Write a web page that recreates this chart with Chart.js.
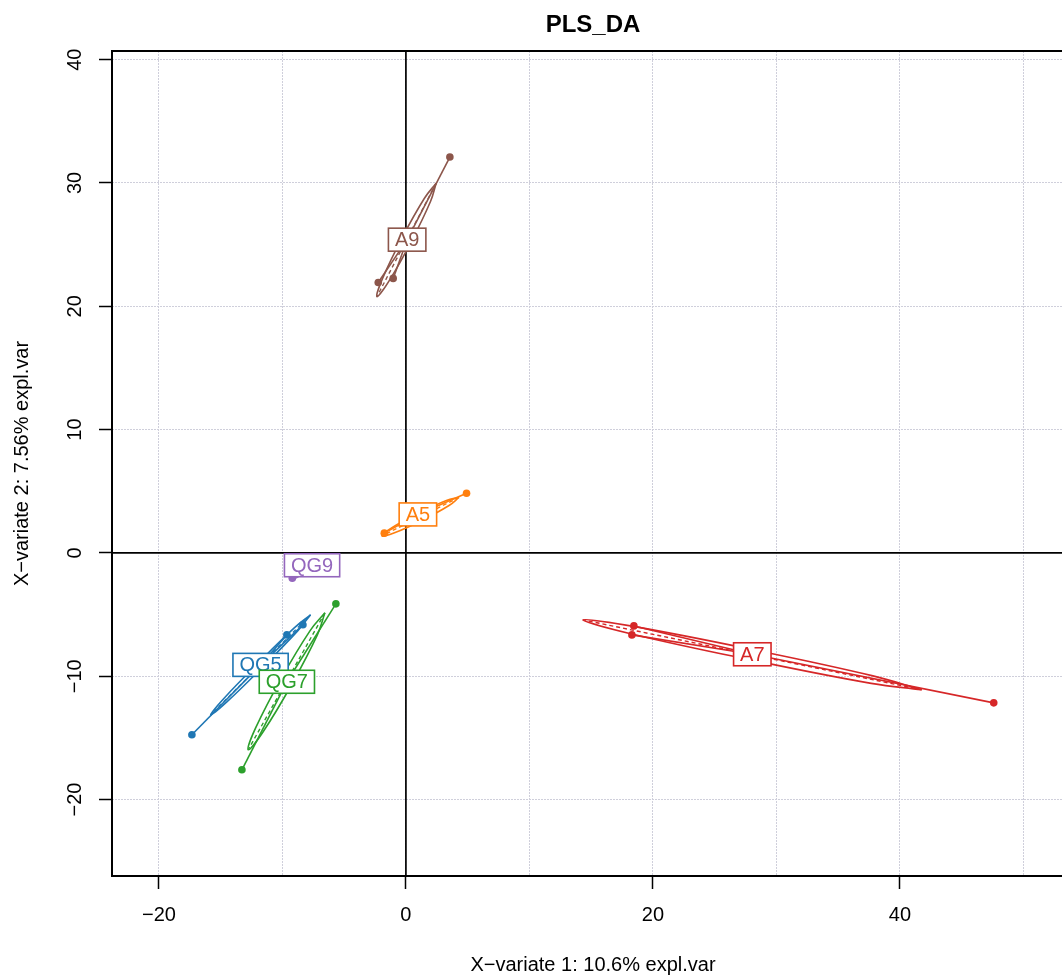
<!DOCTYPE html>
<html><head><meta charset="utf-8">
<script src="https://cdn.jsdelivr.net/npm/chart.js@4.4.0/dist/chart.umd.min.js"></script>
<style>
html,body{margin:0;padding:0;overflow:hidden;background:#fff;width:1062px;height:975px}
#wrap{position:absolute;left:0;top:0;width:1100px;height:975px}
</style>
</head><body><div id="wrap"><canvas id="c" width="1100" height="975"></canvas></div>
<script>
// ---------------- data ----------------
const groups = ['A5', 'A7', 'A9', 'QG5', 'QG7', 'QG9'];
const groupColors = ['#ff7f0e', '#d62728', '#8c564b', '#1f77b4', '#2ca02c', '#9467bd'];

// sample scores (X-variate 1, X-variate 2)
const samplesA5  = [[4.91, 4.84], [-1.75, 1.60], [-0.25, 2.92]];
const samplesA7  = [[18.46, -5.92], [18.30, -6.65], [47.60, -12.16]];
const samplesA9  = [[3.56, 32.10], [-2.24, 21.93], [-1.03, 22.26]];
const samplesQG5 = [[-17.33, -14.75], [-9.64, -6.65], [-8.34, -5.83]];
const samplesQG7 = [[-5.67, -4.13], [-13.28, -17.59], [-9.97, -9.63]];
const samplesQG9 = [[-9.20, -2.05], [-6.90, -0.50], [-6.70, -0.45]];

// group centroids (label positions)
const centroidX = [0.97, 28.05, 0.10, -11.77, -9.64, -7.60];
const centroidY = [3.12, -8.22, 25.40, -9.08, -10.45, -1.00];

// confidence ellipse outlines (traced points, starting at one tip)
const ellipseA5  = [[4.30, 4.50], [3.49, 3.84], [1.33, 2.65], [-0.92, 1.63], [-1.94, 1.38], [-1.13, 2.04], [1.04, 3.23], [3.28, 4.25], [4.30, 4.50]];
const ellipseA7  = [[41.77, -11.10], [37.68, -10.58], [27.96, -8.68], [18.28, -6.57], [14.33, -5.43], [18.42, -5.96], [28.15, -7.86], [37.82, -9.97], [41.77, -11.10]];
const ellipseA9  = [[2.45, 29.98], [1.99, 28.50], [0.40, 25.19], [-1.40, 22.00], [-2.35, 20.78], [-1.89, 22.26], [-0.30, 25.57], [1.50, 28.76], [2.45, 29.98]];
const ellipseQG5 = [[-7.72, -5.02], [-8.78, -6.34], [-11.60, -9.25], [-14.50, -12.08], [-15.82, -13.14], [-14.76, -11.82], [-11.94, -8.91], [-9.04, -6.08], [-7.72, -5.02]];
const ellipseQG7 = [[-6.56, -4.86], [-7.17, -6.65], [-9.24, -10.65], [-11.56, -14.50], [-12.77, -15.96], [-12.16, -14.17], [-10.09, -10.17], [-7.77, -6.32], [-6.56, -4.86]];
const ellipseQG9 = [[-6.20, -0.10], [-6.60, -0.50], [-7.55, -1.15], [-8.60, -1.85], [-9.20, -2.10], [-8.70, -1.70], [-7.65, -0.85], [-6.70, -0.20], [-6.20, -0.10]];

const allSamples = [samplesA5, samplesA7, samplesA9, samplesQG5, samplesQG7, samplesQG9];
const allEllipses = [ellipseA5, ellipseA7, ellipseA9, ellipseQG5, ellipseQG7, ellipseQG9];

// axes
const xRange = [-23.8, 54.1];
const yRange = [-26.2, 40.7];
const xTickValues = [-20, 0, 20, 40];
const xTickLabels = ['\u221220', '0', '20', '40'];
const yTickValues = [-20, -10, 0, 10, 20, 30, 40];
const yTickLabels = ['\u221220', '\u221210', '0', '10', '20', '30', '40'];

const titleText = 'PLS_DA';
const xTitle = 'X\u2212variate 1: 10.6% expl.var';
const yTitle = 'X\u2212variate 2: 7.56% expl.var';

// ---------------- build datasets ----------------
const pt = p => ({x: p[0], y: p[1]});
const datasets = [];
let ord = 1000;
// zero reference lines
datasets.push({data: [{x: 0, y: yRange[0]}, {x: 0, y: yRange[1]}], showLine: true, borderColor: '#000', borderWidth: 1.7, pointRadius: 0, order: ord--});
datasets.push({data: [{x: xRange[0], y: 0}, {x: xRange[1], y: 0}], showLine: true, borderColor: '#000', borderWidth: 1.7, pointRadius: 0, order: ord--});

groups.forEach((g, gi) => {
  const col = groupColors[gi];
  const ell = allEllipses[gi];
  // ellipse
  datasets.push({data: ell.map(pt), showLine: true, tension: 0.4, borderColor: col, borderWidth: 1.6, pointRadius: 0, order: ord--});
  // dashed major axis
  datasets.push({data: [pt(ell[0]), pt(ell[4])], showLine: true, borderColor: col, borderWidth: 1.4, borderDash: [4, 3], pointRadius: 0, order: ord--});
  // star lines
  allSamples[gi].forEach(s => {
    datasets.push({data: [{x: centroidX[gi], y: centroidY[gi]}, pt(s)], showLine: true, borderColor: col, borderWidth: 1.6, pointRadius: 0, order: ord--});
  });
  // points
  datasets.push({data: allSamples[gi].map(pt), showLine: false, pointRadius: 3.8, pointBackgroundColor: col, pointBorderColor: col, pointBorderWidth: 0, order: ord--});
});

const FONT = '"Liberation Sans", Arial, Helvetica, sans-serif';

const decor = {
  id: 'decor',
  afterDatasetsDraw(chart) {
    const {ctx, scales: {x, y}} = chart;
    ctx.save();
    ctx.font = '20px ' + FONT;
    groups.forEach((g, gi) => {
      const px = x.getPixelForValue(centroidX[gi]);
      const py = y.getPixelForValue(centroidY[gi]);
      const tw = ctx.measureText(g).width;
      const w = tw + 13, h = 23;
      ctx.fillStyle = '#fff';
      ctx.fillRect(px - w / 2, py - h / 2, w, h);
      ctx.strokeStyle = groupColors[gi];
      ctx.lineWidth = 1.6;
      ctx.strokeRect(px - w / 2, py - h / 2, w, h);
      ctx.fillStyle = groupColors[gi];
      ctx.textAlign = 'center';
      ctx.textBaseline = 'middle';
      ctx.fillText(g, px, py + 1);
    });
    ctx.restore();
  },
  afterDraw(chart) {
    const {ctx, chartArea: a, scales: {x, y}} = chart;
    ctx.save();
    // frame
    ctx.strokeStyle = '#000';
    ctx.lineWidth = 2;
    ctx.strokeRect(a.left, a.top, a.right - a.left, a.bottom - a.top);
    ctx.fillStyle = '#000';
    ctx.textAlign = 'center';
    ctx.textBaseline = 'middle';
    // x tick labels
    ctx.font = '20px ' + FONT;
    xTickValues.forEach((v, i) => {
      ctx.fillText(xTickLabels[i], x.getPixelForValue(v), a.bottom + 39);
    });
    // y tick labels (rotated)
    yTickValues.forEach((v, i) => {
      ctx.save();
      ctx.translate(a.left - 37, y.getPixelForValue(v));
      ctx.rotate(-Math.PI / 2);
      ctx.fillText(yTickLabels[i], 0, 0);
      ctx.restore();
    });
    // axis titles
    const cx = (a.left + a.right) / 2;
    ctx.fillText(xTitle, cx, 965);
    ctx.save();
    ctx.translate(22, (a.top + a.bottom) / 2);
    ctx.rotate(-Math.PI / 2);
    ctx.fillText(yTitle, 0, 0);
    ctx.restore();
    // main title
    ctx.font = 'bold 24px ' + FONT;
    ctx.fillText(titleText, cx, 25);
    ctx.restore();
  }
};

new Chart(document.getElementById('c'), {
  type: 'scatter',
  data: {datasets},
  options: {
    responsive: false,
    devicePixelRatio: 1,
    animation: false,
    events: [],
    layout: {padding: {left: 0, top: 51, right: 26, bottom: 0}},
    plugins: {legend: {display: false}, title: {display: false}, tooltip: {enabled: false}},
    scales: {
      x: {
        type: 'linear', min: xRange[0], max: xRange[1],
        afterFit: s => { s.height = 99; },
        ticks: {stepSize: 10, includeBounds: false, display: false},
        grid: {
          color: '#cfcfdb', lineWidth: 1, drawTicks: true, tickLength: 13, tickWidth: 1.5,
          tickColor: c => xTickValues.includes(c.tick && c.tick.value) ? '#000' : 'rgba(0,0,0,0)'
        },
        border: {display: false, dash: [2, 1]}
      },
      y: {
        type: 'linear', min: yRange[0], max: yRange[1],
        afterFit: s => { s.width = 112; },
        ticks: {stepSize: 10, includeBounds: false, display: false},
        grid: {
          color: '#cfcfdb', lineWidth: 1, drawTicks: true, tickLength: 13, tickWidth: 1.5,
          tickColor: c => yTickValues.includes(c.tick && c.tick.value) ? '#000' : 'rgba(0,0,0,0)'
        },
        border: {display: false, dash: [2, 1]}
      }
    }
  },
  plugins: [decor]
});
</script>
</body></html>
